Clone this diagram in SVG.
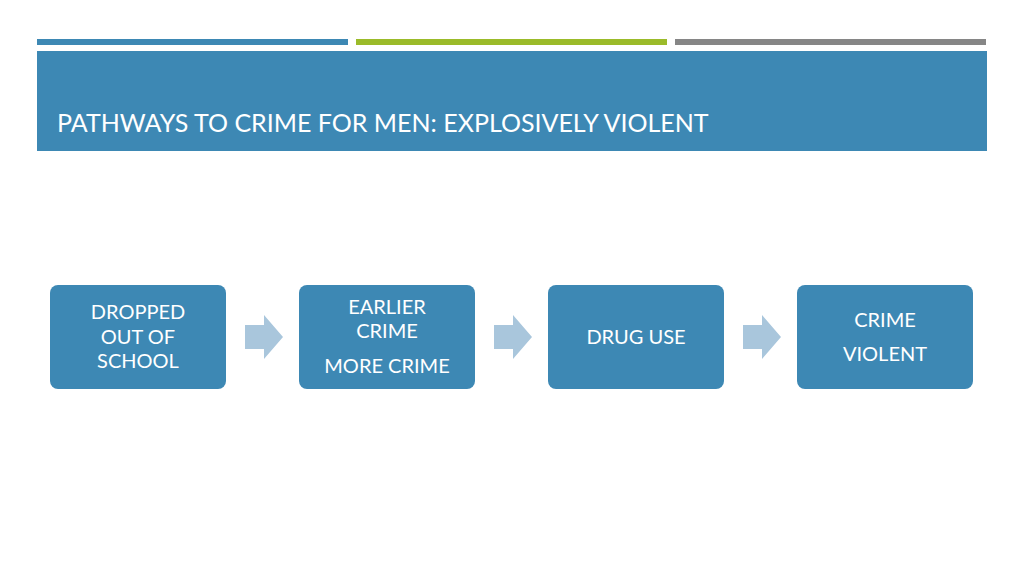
<svg xmlns="http://www.w3.org/2000/svg" width="1024" height="576" viewBox="0 0 1024 576">
<style>
.box{fill:#3d88b4;}
.t{font-family:Lato,"Liberation Sans",sans-serif;font-size:20px;fill:#fff;text-anchor:middle;}
.arr{fill:#a9c6dc;}
</style>
<rect width="1024" height="576" fill="#fff"/>
<rect x="37" y="39" width="311" height="6" fill="#3d88b4"/>
<rect x="356" y="39" width="311" height="6" fill="#9bbb2a"/>
<rect x="675" y="39" width="311" height="6" fill="#868686"/>
<rect x="37" y="51" width="950" height="100" fill="#3d88b4"/>
<text x="57" y="132" font-family="Lato,'Liberation Sans',sans-serif" font-size="25" fill="#fff">PATHWAYS TO CRIME FOR MEN: EXPLOSIVELY VIOLENT</text>
<g id="n1"><rect class="box" x="50" y="285" width="176" height="104" rx="8"/>
<text class="t" x="138" y="319">DROPPED</text><text class="t" x="138" y="344">OUT OF</text><text class="t" x="138" y="368">SCHOOL</text></g>
<g id="n2"><rect class="box" x="299" y="285" width="176" height="104" rx="8"/>
<text class="t" x="387" y="314">EARLIER</text><text class="t" x="387" y="338">CRIME</text><text class="t" x="387" y="373">MORE CRIME</text></g>
<g id="n3"><rect class="box" x="548" y="285" width="176" height="104" rx="8"/>
<text class="t" x="636" y="344">DRUG USE</text></g>
<g id="n4"><rect class="box" x="797" y="285" width="176" height="104" rx="8"/>
<text class="t" x="885" y="327">CRIME</text><text class="t" x="885" y="361">VIOLENT</text></g>
<g id="connectors">
<polygon class="arr" points="245,325 264,325 264,315 283,337 264,359 264,349 245,349"/>
<polygon class="arr" points="494,325 513,325 513,315 532,337 513,359 513,349 494,349"/>
<polygon class="arr" points="743,325 762,325 762,315 781,337 762,359 762,349 743,349"/>
</g>
</svg>
